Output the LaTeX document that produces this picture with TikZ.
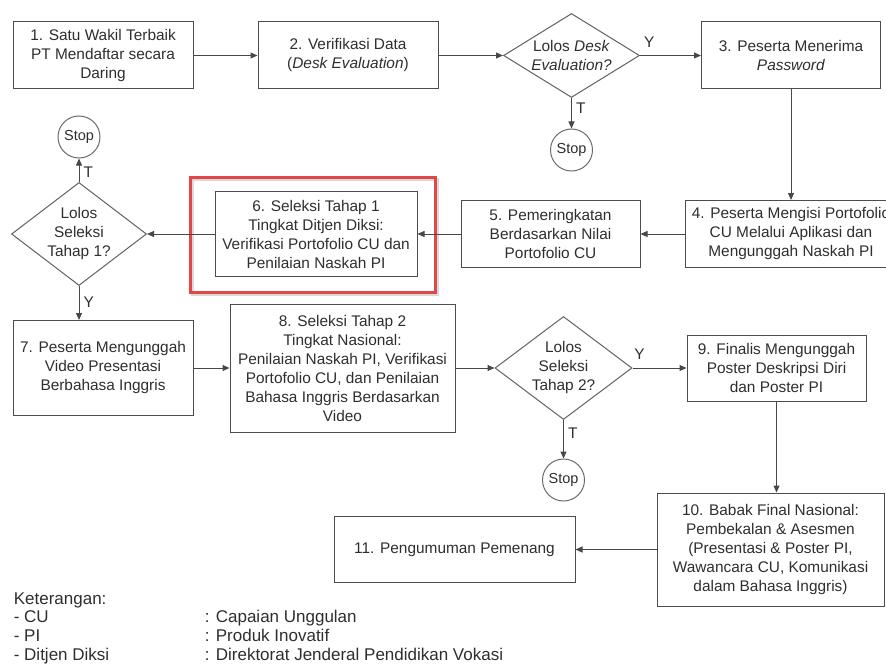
\documentclass[tikz,border=0pt]{standalone}
\usepackage{fontspec}
\setmainfont{Liberation Sans}
\usetikzlibrary{shapes.geometric,arrows.meta}
\definecolor{hilite}{RGB}{224,72,72}

\begin{document}
\begin{tikzpicture}
[x=1pt,y=-1pt,->,>={Triangle[length=7pt,width=6pt]},line width=1pt,color=black!72,
 every node/.style={font=\fontsize{15.4}{19}\selectfont,text=black!82,align=center},
 proc/.style={rectangle,draw=black!70,inner sep=0pt,minimum height=67pt},
 decide/.style={diamond,draw=black!62,inner sep=0pt},
 stopnode/.style={circle,draw=black!58,inner sep=0pt,minimum size=42pt,
   font=\fontsize{14.5}{17}\selectfont},
 lbl/.style={inner sep=1pt},
 legend/.style={anchor=base west,font=\fontsize{17}{19}\selectfont}]
  \useasboundingbox (0,0) rectangle (886,666);
  \clip (0,0) rectangle (886,666);

  % highlight round step 6
  \draw[-,line width=3pt,black!15] (192,179) rectangle (437,294);
  \draw[-,line width=3pt,hilite] (190,177) rectangle (435,292);

  \node[proc,minimum width=180pt] (b1) at (103,55.5) {1. Satu Wakil Terbaik\\PT Mendaftar secara\\Daring};
  \node[proc,minimum width=180pt] (b2) at (348,55.5) {2. Verifikasi Data\\(\textit{Desk Evaluation})};
  \node[decide,aspect=1.62,minimum width=136pt,minimum height=84pt] (d1) at (571.5,55.5) {Lolos \textit{Desk}\\\textit{Evaluation?}};
  \node[proc,minimum width=179pt] (b3) at (791,55.5) {3. Peserta Menerima\\\textit{Password}};
  \node[stopnode] (s1) at (571.5,150) {Stop};

  \node[proc,minimum width=212pt] (b4) at (791,234) {4. Peserta Mengisi Portofolio\\CU Melalui Aplikasi dan\\Mengunggah Naskah PI};
  \node[proc,minimum width=179pt] (b5) at (550.5,234) {5. Pemeringkatan\\Berdasarkan Nilai\\Portofolio CU};
  \node[proc,minimum width=202pt,minimum height=85pt] (b6) at (316,234) {6. Seleksi Tahap 1\\Tingkat Ditjen Diksi:\\Verifikasi Portofolio CU dan\\Penilaian Naskah PI};
  \node[decide,aspect=1.31,minimum width=135pt,minimum height=103pt] (d2) at (79,234) {Lolos\\Seleksi\\Tahap 1?};
  \node[stopnode] (s2) at (79,137) {Stop};

  \node[proc,minimum width=180pt,minimum height=95pt] (b7) at (103,368) {7. Peserta Mengunggah\\Video Presentasi\\Berbahasa Inggris};
  \node[proc,minimum width=225pt,minimum height=128pt] (b8) at (342.5,368) {8. Seleksi Tahap 2\\Tingkat Nasional:\\Penilaian Naskah PI, Verifikasi\\Portofolio CU, dan Penilaian\\Bahasa Inggris Berdasarkan\\Video};
  \node[decide,aspect=1.33,minimum width=137pt,minimum height=103pt] (d3) at (563.5,368) {Lolos\\Seleksi\\Tahap 2?};
  \node[proc,minimum width=179pt,minimum height=66pt] (b9) at (776.5,368) {9. Finalis Mengunggah\\Poster Deskripsi Diri\\dan Poster PI};
  \node[stopnode] (s3) at (563.5,480) {Stop};

  \node[proc,minimum width=227pt,minimum height=113pt] (b10) at (770.5,549.5) {10. Babak Final Nasional:\\Pembekalan \& Asesmen\\(Presentasi \& Poster PI,\\Wawancara CU, Komunikasi\\dalam Bahasa Inggris)};
  \node[proc,minimum width=241pt,minimum height=66pt] (b11) at (454.5,549.5) {11. Pengumuman Pemenang};

  \foreach \from/\to in {b1/b2,b2/d1,b3/b4,b4/b5,b5/b6,b6/d2,b7/b8,b8/d3,b10/b11}
    \draw (\from) -- (\to);

  \draw (d1) -- node[lbl,pos=.15,above=6pt] {Y} (b3);
  \draw (d1) -- node[lbl,pos=.34,right=3pt] {T} (s1);
  \draw (d2) -- node[lbl,pos=.43,right=3pt] {T} (s2);
  \draw (d2.south) -- node[lbl,pos=.47,right=3pt] {Y} (d2.south |- b7.north);
  \draw (d3) -- node[lbl,pos=.13,above=7pt] {Y} (b9);
  \draw (d3) -- node[lbl,pos=.34,right=3pt] {T} (s3);
  \draw (b9.south) -- (b9.south |- b10.north);

  % keterangan
  \node[legend] (ket) at (10,604) {Keterangan:};
  \foreach \i/\abbr/\desc in {1/CU/Capaian Unggulan,2/PI/Produk Inovatif,3/Ditjen Diksi/Direktorat Jenderal Pendidikan Vokasi}{
    \node[legend] (abbr\i) at (10,604+18.7*\i) {- \abbr};
    \node[legend] (desc\i) at (201,604+18.7*\i) {: \desc};
  }
\end{tikzpicture}
\end{document}
